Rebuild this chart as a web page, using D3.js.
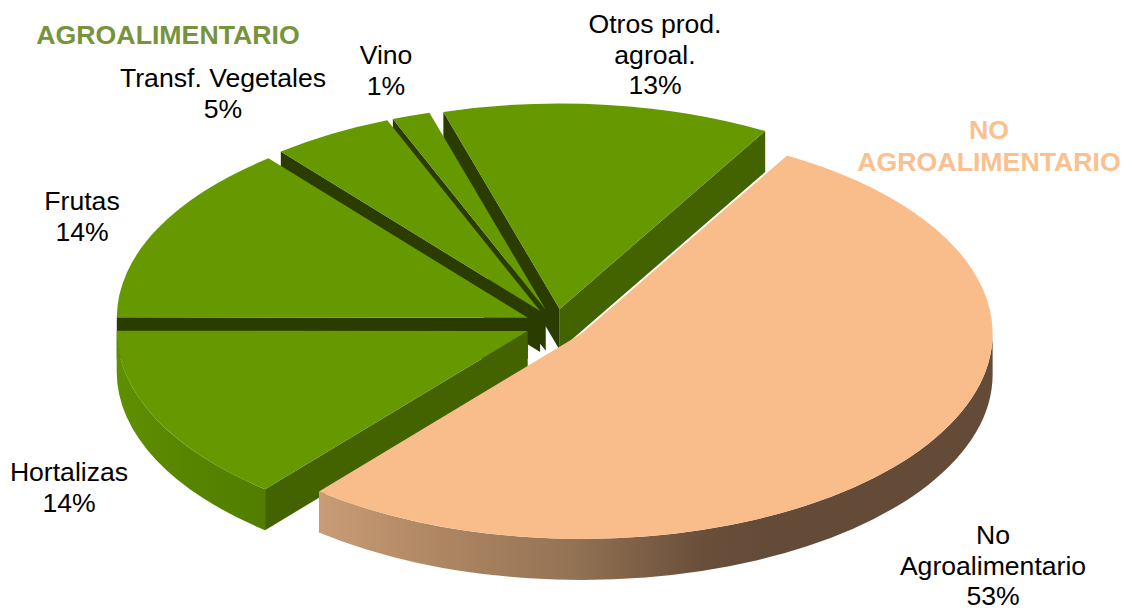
<!DOCTYPE html>
<html><head><meta charset="utf-8">
<script src="https://cdn.jsdelivr.net/npm/d3@7/dist/d3.min.js"></script>
<style>html,body{margin:0;padding:0;background:#fff}svg{display:block}text{font-family:"Liberation Sans",Arial,sans-serif}</style>
</head><body><div id="c"></div>
<script>
// Data, in drawing order round the pie (clockwise)
const categories = ["No Agroalimentario","Hortalizas","Frutas","Transf. Vegetales","Vino","Otros prod. agroal."];
const values = [52.7,14.0,14.1,4.8,1.5,12.9];
const valueLabels = ["53%","14%","14%","5%","1%","13%"];
const groupTitles = ["AGROALIMENTARIO","NO AGROALIMENTARIO"];

const W=1132,H=610;
const cx=556,cy=324.5,R=411,tilt=0.5,depth=41,explode=0.076,startDeg=30;
const col={green:"#669900",greenSide:"#436300",greenDark:"#2a3c00",peach:"#F9BD8B"};

const svg=d3.select("#c").append("svg").attr("width",W).attr("height",H).attr("viewBox",`0 0 ${W} ${H}`);
const defs=svg.append("defs");
const lg=(id,stops)=>{const g=defs.append("linearGradient").attr("id",id).attr("gradientUnits","userSpaceOnUse")
  .attr("x1",0).attr("x2",W).attr("y1",0).attr("y2",0);
  stops.forEach(([x,c])=>g.append("stop").attr("offset",x/W).attr("stop-color",c));};
lg("rimPeach",[[320,"#C89C76"],[440,"#AE8662"],[570,"#947355"],[700,"#6A4F3A"],[760,"#644B38"],[1000,"#644B38"]]);
lg("rimGreen",[[117,"#5F8F00"],[200,"#568300"],[265,"#527D00"]]);

const pie=d3.pie().sort(null).value(d=>d).startAngle(startDeg*Math.PI/180).endAngle((startDeg+360)*Math.PI/180);
const arcs=pie(values);
const arc=d3.arc().innerRadius(0).outerRadius(R);

function center(a){const m=(a.startAngle+a.endAngle)/2;
  return [cx+explode*R*Math.sin(m),cy-explode*R*tilt*Math.cos(m)];}
const pt=(c,t,dy=0)=>[c[0]+R*Math.sin(t),c[1]-R*tilt*Math.cos(t)+dy];

function radialWall(g,c,t,fill){
  const p=pt(c,t);
  const path=d3.path();
  path.moveTo(c[0],c[1]);path.lineTo(p[0],p[1]);path.lineTo(p[0],p[1]+depth);path.lineTo(c[0],c[1]+depth);path.closePath();
  g.append("path").attr("d",path.toString()).attr("fill",fill);
}
function rimWall(g,c,a,fill){
  // only the front of the disc shows its rim
  const lo=Math.max(a.startAngle,Math.PI/2),hi=Math.min(a.endAngle,3*Math.PI/2);
  if(hi<=lo)return;
  const p0=pt(c,lo),p1=pt(c,hi),q1=pt(c,hi,depth),q0=pt(c,lo,depth);
  const large=(hi-lo)>Math.PI?1:0;
  g.append("path").attr("fill",fill).attr("d",
   `M${p0}A${R},${R*tilt} 0 ${large} 1 ${p1}L${q1}A${R},${R*tilt} 0 ${large} 0 ${q0}Z`);
}
function slice(i,startFill,endFill,rimFill,top){
  const a=arcs[i],c=center(a),g=svg.append("g").attr("class","slice").attr("data-name",categories[i]);
  if(startFill)radialWall(g,c,a.startAngle,startFill);
  if(endFill)radialWall(g,c,a.endAngle,endFill);
  rimWall(g,c,a,rimFill);
  g.append("path").attr("d",arc(a)).attr("fill",top)
   .attr("transform",`translate(${c[0]},${c[1]}) scale(1,${tilt})`);
}
// back to front
slice(5,col.greenDark,col.greenSide,"none",col.green);
slice(4,col.greenDark,null,"none",col.green);
slice(3,col.greenDark,null,"none",col.green);
slice(2,col.greenDark,null,"url(#rimGreen)",col.green);
slice(1,col.greenSide,null,"url(#rimGreen)",col.green);
slice(0,null,null,"url(#rimPeach)",col.peach);

// Labels
const fs=26.6;
function label(lines,x,y){
  const t=svg.append("text").attr("text-anchor","middle").attr("font-size",fs).attr("fill","#000");
  lines.forEach((s,k)=>t.append("tspan").attr("x",x).attr("y",y+k*30.5).text(s));
}
label(["Otros prod.","agroal.",valueLabels[5]],655,33);
label(["Vino",valueLabels[4]],386,64);
label(["Transf. Vegetales",valueLabels[3]],223,87);
label(["Frutas",valueLabels[2]],82,210);
label(["Hortalizas",valueLabels[1]],69,481);
label(["No","Agroalimentario",valueLabels[0]],993,544);

svg.append("text").attr("x",168).attr("y",44).attr("text-anchor","middle").attr("font-size",26.7).attr("font-weight","bold")
  .attr("fill","#77933C").text(groupTitles[0]);
const t2=svg.append("text").attr("text-anchor","middle").attr("font-size",26.7).attr("font-weight","bold").attr("fill","#FAC090");
t2.append("tspan").attr("x",989).attr("y",139).text("NO");
t2.append("tspan").attr("x",989).attr("y",171).text(groupTitles[1].replace("NO ",""));
</script></body></html>
